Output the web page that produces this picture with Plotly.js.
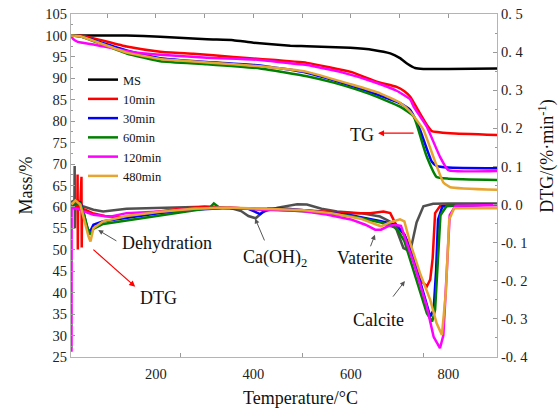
<!DOCTYPE html>
<html>
<head>
<meta charset="utf-8">
<script src="https://cdn.plot.ly/plotly-3.0.1.min.js"></script>
<style>html,body{margin:0;padding:0;background:#fff;}#chart{width:558px;height:408px;}</style>
</head>
<body>
<div id="chart"></div>
<script>
// ---------- Series names / colours ----------
const seriesNames = ["MS", "10min", "30min", "60min", "120min", "480min"];
const tgColors  = ["#000000", "#ff0000", "#0000ff", "#008000", "#ff00ff", "#e6a430"];
const dtgColors = ["#505050", "#ff0000", "#0000ff", "#008000", "#ff00ff", "#e6a430"];

// ---------- TG (Mass/%) ----------
const tgT_MS  = [26, 100, 140, 209, 305, 359, 400, 476, 510, 599, 646, 681, 701, 716, 732, 749, 800, 900];
const tg_MS   = [100, 100, 100, 99.7, 99.1, 98.9, 98.3, 97.6, 97.5, 97.1, 96.6, 95.8, 94.7, 93.4, 92.4, 92.2, 92.2, 92.3];
const tgT_10  = [26, 52, 140, 209, 277, 359, 414, 510, 600, 653, 694, 710, 722, 742, 758, 766, 804, 900];
const tg_10   = [100, 99.9, 97.4, 96.2, 95.7, 95.0, 94.5, 93.6, 91.5, 89.2, 88.0, 87.0, 85.7, 81.8, 78.8, 77.7, 77.2, 76.8];
const tgT_30  = [26, 45, 140, 209, 305, 414, 510, 600, 660, 701, 722, 742, 766, 776, 800, 900];
const tg_30   = [100, 99.8, 96.5, 94.7, 93.8, 93.0, 91.3, 88.3, 86.0, 84.2, 82.6, 78.0, 70.6, 69.6, 69.2, 69.0];
const tgT_60  = [26, 45, 140, 209, 305, 414, 510, 565, 640, 701, 729, 749, 756, 776, 800, 900];
const tg_60   = [100, 99.8, 95.8, 94.0, 93.3, 92.3, 90.5, 89.0, 86.3, 83.4, 81.1, 74.1, 71.7, 67.0, 66.6, 66.3];
const tgT_120 = [26, 30, 40, 72, 148, 209, 305, 414, 476, 510, 578, 646, 694, 722, 729, 756, 783, 800, 900];
const tg_120  = [100, 99.2, 98.5, 97.9, 96.2, 95.5, 94.8, 94.3, 93.5, 93.1, 91.5, 89.2, 87.1, 85.1, 83.4, 78.7, 71.7, 68.6, 68.4];
const tgT_480 = [26, 45, 140, 209, 305, 414, 510, 600, 660, 701, 722, 749, 770, 790, 804, 900];
const tg_480  = [100, 99.8, 96.0, 94.5, 93.7, 92.8, 91.5, 88.6, 86.5, 84.3, 82.2, 78.0, 71.5, 65.7, 64.6, 64.0];

// ---------- DTG (%/min) ----------
const dtgT_MS  = [26, 33, 33.5, 34, 35, 40, 50, 72, 92, 140, 209, 300, 350, 375, 390, 405, 420, 450, 490, 510, 540, 572, 620, 660, 681, 694, 708, 722, 735, 749, 769, 800, 900];
const dtg_MS   = [0.006, 0.011, 0.101, -0.062, 0.011, 0.011, -0.0045, -0.0135, -0.018, -0.011, -0.009, -0.006, -0.008, -0.017, -0.030, -0.036, -0.019, -0.008, 0.001, 0.0, -0.011, -0.018, -0.0225, -0.0315, -0.045, -0.066, -0.114, -0.123, -0.047, -0.0045, 0.002, 0.003, 0.003];
const dtgT_10  = [27, 36, 39, 39.5, 40, 40.5, 45, 47.5, 48, 48.5, 55, 70, 95, 130, 180, 250, 300, 350, 400, 450, 500, 550, 606, 640, 667, 681, 694, 710, 722, 742, 756, 763, 768, 773, 783, 820, 900];
const dtg_10   = [0.0, -0.003, -0.006, 0.079, -0.118, -0.006, -0.008, 0.073, -0.1125, -0.011, -0.0135, -0.0225, -0.030, -0.034, -0.0225, -0.011, -0.006, -0.008, -0.011, -0.011, -0.0145, -0.019, -0.0225, -0.0225, -0.018, -0.0225, -0.056, -0.079, -0.1125, -0.197, -0.215, -0.197, -0.141, -0.0225, -0.0045, -0.001, -0.001];
const dtgT_30  = [27, 35, 45, 50, 58, 64, 72, 92, 140, 209, 277, 346, 390, 414, 430, 470, 520, 600, 662, 694, 710, 729, 749, 763, 770, 775, 779, 788, 900];
const dtg_30   = [0.0, 0.003, 0.006, -0.011, -0.056, -0.074, -0.053, -0.044, -0.035, -0.0225, -0.0135, -0.009, -0.011, -0.025, -0.011, -0.011, -0.017, -0.028, -0.044, -0.053, -0.079, -0.144, -0.232, -0.294, -0.276, -0.174, -0.04, -0.0045, 0.001];
const dtgT_60  = [27, 35, 45, 52, 60, 65, 72, 92, 140, 209, 277, 310, 319, 330, 346, 400, 450, 520, 600, 662, 694, 710, 729, 742, 756, 767, 773, 779, 784, 797, 900];
const dtg_60   = [0.0, 0.003, 0.003, -0.0225, -0.062, -0.079, -0.064, -0.051, -0.042, -0.028, -0.0155, -0.009, 0.003, -0.008, -0.009, -0.011, -0.0135, -0.019, -0.030, -0.047, -0.062, -0.096, -0.174, -0.222, -0.285, -0.307, -0.276, -0.141, -0.028, -0.003, 0.0];
const dtgT_120 = [27, 27.3, 40, 52, 72, 106, 140, 209, 277, 350, 420, 500, 550, 600, 630, 650, 662, 676, 690, 703, 715, 729, 756, 770, 783, 790, 797, 803, 815, 900];
const dtg_120  = [-0.386, -0.009, -0.011, -0.018, -0.027, -0.032, -0.0225, -0.018, -0.011, -0.008, -0.0135, -0.017, -0.026, -0.039, -0.053, -0.066, -0.066, -0.057, -0.053, -0.056, -0.101, -0.153, -0.268, -0.347, -0.377, -0.343, -0.174, -0.028, -0.003, -0.001];
const dtgT_480 = [27, 35, 45, 55, 62, 66, 72, 92, 140, 209, 277, 346, 420, 500, 560, 620, 662, 680, 701, 710, 722, 742, 763, 776, 787, 795, 802, 812, 900];
const dtg_480  = [0.0, 0.011, 0.0, -0.051, -0.084, -0.097, -0.062, -0.044, -0.030, -0.019, -0.011, -0.008, -0.011, -0.0145, -0.0225, -0.037, -0.057, -0.047, -0.039, -0.044, -0.101, -0.18, -0.25, -0.311, -0.342, -0.231, -0.039, -0.010, -0.010];

// ---------- Axis ticks ----------
const xLabelTicks = [200, 400, 600, 800];
const xBottomMarks = [250, 500, 750];
const xTopMarks = [100, 200, 300, 400, 500, 600, 700, 800];
const yLeftTicks = [25, 30, 35, 40, 45, 50, 55, 60, 65, 70, 75, 80, 85, 90, 95, 100, 105];
const yRightTicks = [-0.4, -0.3, -0.2, -0.1, 0.0, 0.1, 0.2, 0.3, 0.4, 0.5];
const yRightText = ["-0. 4", "-0. 3", "-0. 2", "-0. 1", "0. 0", "0. 1", "0. 2", "0. 3", "0. 4", "0. 5"];

const tgT = [tgT_MS, tgT_10, tgT_30, tgT_60, tgT_120, tgT_480];
const tgV = [tg_MS, tg_10, tg_30, tg_60, tg_120, tg_480];
const dtgT = [dtgT_MS, dtgT_10, dtgT_30, dtgT_60, dtgT_120, dtgT_480];
const dtgV = [dtg_MS, dtg_10, dtg_30, dtg_60, dtg_120, dtg_480];

const FONT = "Liberation Serif";
const traces = [];
for (let i = 0; i < seriesNames.length; i++) {
  traces.push({
    type: "scatter", mode: "lines", x: dtgT[i], y: dtgV[i], xaxis: "x", yaxis: "y2",
    line: {color: dtgColors[i], width: 2.5}, showlegend: false, name: seriesNames[i] + " DTG"
  });
}
for (let i = 0; i < seriesNames.length; i++) {
  traces.push({
    type: "scatter", mode: "lines", x: tgT[i], y: tgV[i], xaxis: "x", yaxis: "y",
    line: {color: tgColors[i], width: 2.5, shape: "spline", smoothing: 0.4}, name: seriesNames[i]
  });
}
// helper traces so the overlay axes are drawn
traces.push({type: "scatter", mode: "lines", x: [], y: [], xaxis: "x2", yaxis: "y", showlegend: false, hoverinfo: "skip"});
traces.push({type: "scatter", mode: "lines", x: [], y: [], xaxis: "x3", yaxis: "y", showlegend: false, hoverinfo: "skip"});

const axisLine = "#b4b4b4";
const tickFont = {family: FONT, size: 14.5, color: "#222"};
const xRange = [26, 900];
const txt = (size) => ({family: FONT, size: size, color: "#111"});

const layout = {
  width: 558, height: 408,
  margin: {l: 71, r: 61, t: 14, b: 51},
  paper_bgcolor: "#fff", plot_bgcolor: "#fff",
  font: {family: FONT, color: "#111"},
  showlegend: true,
  legend: {x: (83 - 71) / 426, xanchor: "left", y: (357 - 65) / 343, yanchor: "top",
           bgcolor: "rgba(0,0,0,0)", borderwidth: 0, font: txt(12.5)},
  xaxis: {range: xRange, tickvals: xLabelTicks, ticks: "", showline: true, linecolor: axisLine, linewidth: 1,
          showgrid: false, zeroline: false, tickfont: tickFont, ticklabelstandoff: 4},
  xaxis2: {range: xRange, overlaying: "x", side: "top", anchor: "y", tickvals: xTopMarks, ticks: "inside", ticklen: 4,
           tickcolor: "#999", showticklabels: false, showline: true, linecolor: axisLine, showgrid: false, zeroline: false},
  xaxis3: {range: xRange, overlaying: "x", side: "bottom", anchor: "y", tickvals: xBottomMarks, ticks: "inside", ticklen: 4,
           tickcolor: "#999", showticklabels: false, showline: false, showgrid: false, zeroline: false},
  yaxis: {range: [25, 105], tickvals: yLeftTicks, ticks: "inside", ticklen: 4, tickcolor: "#999",
          minor: {dtick: 2.5, ticks: "inside", ticklen: 2, tickcolor: "#999", showgrid: false},
          showline: true, linecolor: axisLine, showgrid: false, zeroline: false, tickfont: tickFont},
  yaxis2: {range: [-0.4, 0.5], overlaying: "y", side: "right", tickvals: yRightTicks, ticktext: yRightText,
           ticks: "inside", ticklen: 4, tickcolor: "#999",
           minor: {dtick: 0.05, ticks: "inside", ticklen: 2, tickcolor: "#999", showgrid: false},
           showline: true, linecolor: axisLine, showgrid: false, zeroline: false, tickfont: tickFont},
  annotations: [
    {xref: "paper", yref: "paper", x: (300.7 - 71) / 426, y: (357 - 398) / 343, xanchor: "center", yanchor: "middle",
     text: "Temperature/°C", showarrow: false, font: txt(18)},
    {xref: "paper", yref: "paper", x: (25 - 71) / 426, y: 0.5, xanchor: "center", yanchor: "middle",
     text: "Mass/%", textangle: -90, showarrow: false, font: txt(18)},
    {xref: "paper", yref: "paper", x: (546.7 - 71) / 426, y: (357 - 156) / 343, xanchor: "center", yanchor: "middle",
     text: "DTG/(%·min<sup>-1</sup>)", textangle: -90, showarrow: false, font: txt(18)},
    // arrows
    {x: 656, y: 77.2, xref: "x", yref: "y", ax: 37, ay: 0, text: "", showarrow: true, arrowhead: 2, arrowsize: 1, arrowwidth: 1.2, arrowcolor: "#ff0000", standoff: 0},
    {x: 157.7, y: 41.4, xref: "x", yref: "y", ax: -43.3, ay: -38.4, text: "", showarrow: true, arrowhead: 2, arrowsize: 1, arrowwidth: 1.2, arrowcolor: "#ff0000", standoff: 0},
    {x: 81.8, y: 54.6, xref: "x", yref: "y", ax: 19.7, ay: 11.7, text: "", showarrow: true, arrowhead: 2, arrowsize: 1, arrowwidth: 1, arrowcolor: "#555", standoff: 0},
    {x: 403.7, y: 57.3, xref: "x", yref: "y", ax: 10, ay: 23.4, text: "", showarrow: true, arrowhead: 2, arrowsize: 1, arrowwidth: 1, arrowcolor: "#555", standoff: 0},
    {x: 649.6, y: 53.5, xref: "x", yref: "y", ax: -5, ay: 13, text: "", showarrow: true, arrowhead: 2, arrowsize: 1, arrowwidth: 1, arrowcolor: "#555", standoff: 0},
    {x: 711, y: 42.7, xref: "x", yref: "y", ax: -13, ay: 17, text: "", showarrow: true, arrowhead: 2, arrowsize: 1, arrowwidth: 1, arrowcolor: "#555", standoff: 0},
    // labels
    {x: 622, y: 76.7, xref: "x", yref: "y", text: "TG", showarrow: false, font: txt(18)},
    {x: 204.7, y: 38.8, xref: "x", yref: "y", text: "DTG", showarrow: false, font: txt(18)},
    {x: 222, y: 51.6, xref: "x", yref: "y", text: "Dehydration", showarrow: false, font: txt(18)},
    {x: 444.5, y: 48.0, xref: "x", yref: "y", text: "Ca(OH)<sub>2</sub>", showarrow: false, font: txt(18)},
    {x: 628.5, y: 48.1, xref: "x", yref: "y", text: "Vaterite", showarrow: false, font: txt(18)},
    {x: 656, y: 33.6, xref: "x", yref: "y", text: "Calcite", showarrow: false, font: txt(18)}
  ]
};

Plotly.newPlot("chart", traces, layout, {displayModeBar: false, staticPlot: true});
</script>
</body>
</html>
